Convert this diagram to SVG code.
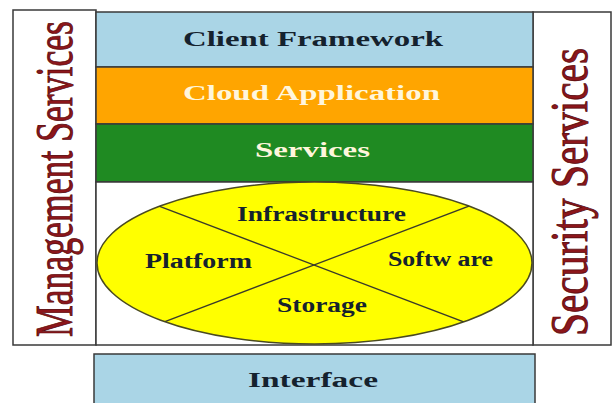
<svg xmlns="http://www.w3.org/2000/svg" width="612" height="403" viewBox="0 0 612 403">
  <style>
    .frame { stroke: #3a3a3a; stroke-width: 1.5; }
    .label { font-family: "Liberation Serif", "Times New Roman", serif; font-weight: bold; font-size: 20px; text-anchor: start; }
    .side { font-family: "Liberation Serif", "Times New Roman", serif; font-size: 52px; fill: #8c161b; stroke: #5a0a0d; stroke-width: 0.9; }
    .dark { fill: #15222e; }
    .light { fill: #fff6dc; }
    .divider { stroke: #3a3a2a; stroke-width: 1.3; fill: none; }
  </style>
  <defs>
    <clipPath id="ellipse-clip">
      <ellipse cx="314.5" cy="263" rx="217.5" ry="81"/>
    </clipPath>
  </defs>

  <rect width="612" height="403" fill="#ffffff"/>

  <!-- left column -->
  <g id="management-services">
    <rect class="frame" x="13" y="10" width="83" height="335" fill="#ffffff"/>
    <text class="side" transform="translate(72 337) rotate(-90)" textLength="316" lengthAdjust="spacingAndGlyphs">Management Services</text>
  </g>

  <!-- right column -->
  <g id="security-services">
    <rect class="frame" x="533" y="12" width="78" height="333" fill="#ffffff"/>
    <text class="side" transform="translate(587 336) rotate(-90)" textLength="288" lengthAdjust="spacingAndGlyphs">Security Services</text>
  </g>

  <!-- stacked layers -->
  <g id="client-framework">
    <rect class="frame" x="96" y="12" width="437" height="55" fill="#aad5e6"/>
    <text class="label dark" x="183" y="46" textLength="260" lengthAdjust="spacingAndGlyphs">Client Framework</text>
  </g>

  <g id="cloud-application">
    <rect class="frame" x="96" y="67" width="437" height="57" fill="#ffa500"/>
    <text class="label light" x="183" y="100" textLength="257" lengthAdjust="spacingAndGlyphs">Cloud Application</text>
  </g>

  <g id="services">
    <rect class="frame" x="96" y="124" width="437" height="58" fill="#1f8a22"/>
    <text class="label light" x="255" y="157" textLength="115" lengthAdjust="spacingAndGlyphs">Services</text>
  </g>

  <g id="resources">
    <rect class="frame" x="96" y="182" width="437" height="163" fill="#ffffff"/>
    <ellipse cx="314.5" cy="263" rx="217.5" ry="81" fill="#ffff00" stroke="#4a4a20" stroke-width="1.5"/>
  </g>

  <!-- quadrant dividers inside the ellipse -->
  <g id="connectors" clip-path="url(#ellipse-clip)">
    <line class="divider" x1="94" y1="181.4" x2="534" y2="348.6"/>
    <line class="divider" x1="94" y1="348.6" x2="534" y2="181.4"/>
  </g>

  <g id="infrastructure">
    <text class="label dark" x="237" y="221" textLength="169" lengthAdjust="spacingAndGlyphs">Infrastructure</text>
  </g>
  <g id="platform">
    <text class="label dark" x="145" y="268" textLength="107" lengthAdjust="spacingAndGlyphs">Platform</text>
  </g>
  <g id="software">
    <text class="label dark" x="388" y="266" textLength="105" lengthAdjust="spacingAndGlyphs">Softw are</text>
  </g>
  <g id="storage">
    <text class="label dark" x="277" y="312" textLength="90" lengthAdjust="spacingAndGlyphs">Storage</text>
  </g>

  <g id="interface">
    <rect class="frame" x="94" y="354" width="441" height="60" fill="#aad5e6"/>
    <text class="label dark" x="248" y="387" textLength="130" lengthAdjust="spacingAndGlyphs">Interface</text>
  </g>
</svg>
